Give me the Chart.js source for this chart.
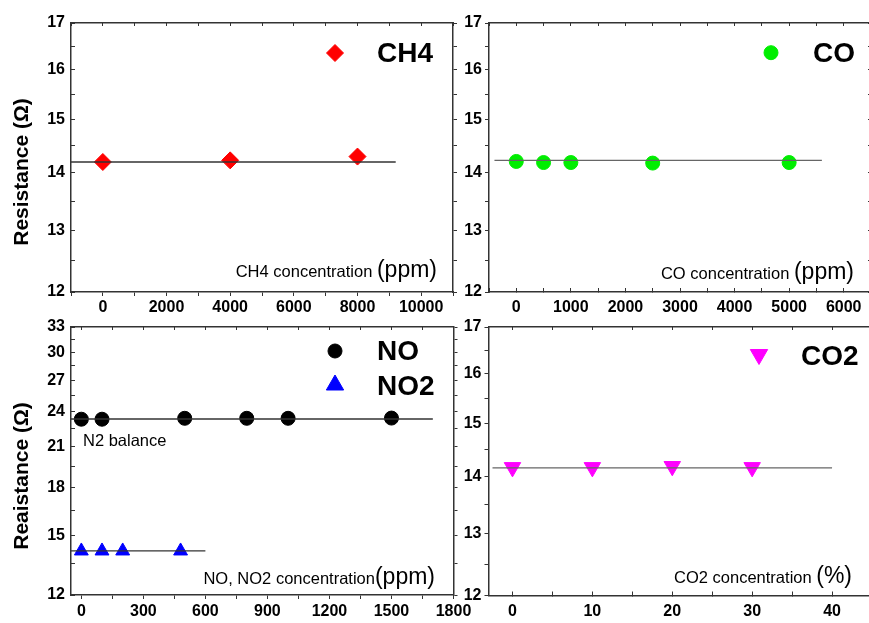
<!DOCTYPE html>
<html><head><meta charset="utf-8">
<script src="https://cdn.jsdelivr.net/npm/chart.js"></script>
<style>
html,body{margin:0;padding:0;background:#fff;overflow:hidden;width:869px;height:623px;position:relative;}
canvas{position:absolute;}
</style></head><body>
<canvas id="c1" width="480" height="320" style="left:0;top:0"></canvas>
<canvas id="c2" width="460" height="320" style="left:430px;top:0"></canvas>
<canvas id="c3" width="480" height="318" style="left:0;top:305px"></canvas>
<canvas id="c4" width="460" height="318" style="left:430px;top:305px"></canvas>
<script>
// ---------------- data ----------------
const ch4Conc = [0, 4000, 8000];
const ch4Res = [14.20, 14.23, 14.30];
const ch4LineConc = [-1000, 9200];
const ch4LineRes = [14.20, 14.20];

const coConc = [0, 500, 1000, 2500, 5000];
const coRes = [14.21, 14.19, 14.19, 14.18, 14.19];
const coLineConc = [-400, 5600];
const coLineRes = [14.23, 14.23];

const noConc = [0, 100, 500, 800, 1000, 1500];
const noRes = [23.30, 23.30, 23.38, 23.38, 23.38, 23.40];
const noLineConc = [-50, 1700];
const noLineRes = [23.32, 23.32];

const no2Conc = [0, 100, 200, 480];
const no2Res = [14.17, 14.17, 14.17, 14.17];
const no2LineConc = [-50, 600];
const no2LineRes = [14.17, 14.17];

const co2Conc = [0, 10, 20, 30];
const co2Res = [14.17, 14.17, 14.19, 14.17];
const co2LineConc = [-2.5, 40];
const co2LineRes = [14.16, 14.16];

// ---------------- tick labels ----------------
const ch4XTicks = [0, 2000, 4000, 6000, 8000, 10000];
const coXTicks = [0, 1000, 2000, 3000, 4000, 5000, 6000];
const noXTicks = [0, 300, 600, 900, 1200, 1500, 1800];
const co2XTicks = [0, 10, 20, 30, 40];
const resTicks = [12, 13, 14, 15, 16, 17];
const noResTicks = [12, 15, 18, 21, 24, 27, 30, 33];

// ---------------- helpers ----------------
const FONT = '"Liberation Sans", Arial, sans-serif';
const pts = (xs, ys) => xs.map((x, i) => ({ x: x, y: ys[i] }));

function stepTicks(min, max, step) {
  return (scale) => {
    const vals = [];
    const start = Math.ceil(min / step - 1e-9) * step;
    for (let v = start; v <= max + 1e-9; v += step) vals.push(Math.round(v * 1000) / 1000);
    scale.ticks = vals.map(v => ({ value: v }));
  };
}

function axis(o) {
  return {
    type: o.type || 'linear',
    position: o.position,
    min: o.min, max: o.max,
    afterBuildTicks: stepTicks(o.min, o.max, o.step),
    afterFit: (s) => { if (s.isHorizontal()) s.height = o.size; else s.width = o.size; },
    ticks: {
      display: !!o.labels,
      callback: (v) => (o.labels && o.labels.includes(v)) ? String(v) : '',
      autoSkip: false, maxRotation: 0, minRotation: 0,
      padding: o.pad || 0, color: '#000',
      font: { family: FONT, size: 16, weight: 'bold' }
    },
    grid: { display: true, drawOnChartArea: false, drawTicks: true, tickLength: o.tl, tickColor: '#333', tickWidth: 1 },
    border: { display: true, color: '#333', width: 1.5 }
  };
}

function fallbackPoint(ctx, style, r, rot, x, y) {
  ctx.save(); ctx.translate(x, y); ctx.rotate(rot * Math.PI / 180); ctx.beginPath();
  if (style === 'circle') ctx.arc(0, 0, r, 0, Math.PI * 2);
  else if (style === 'rectRot') { ctx.moveTo(-r, 0); ctx.lineTo(0, -r); ctx.lineTo(r, 0); ctx.lineTo(0, r); ctx.closePath(); }
  else if (style === 'triangle') { ctx.moveTo(0, -r); ctx.lineTo(r * 0.866, r / 2); ctx.lineTo(-r * 0.866, r / 2); ctx.closePath(); }
  ctx.fill(); ctx.stroke(); ctx.restore();
}

const panelText = {
  id: 'panelText',
  afterDraw(chart, args, opts) {
    const ctx = chart.ctx;
    ctx.save();
    (opts.legend || []).forEach(e => {
      const ds = chart.data.datasets[e.dataset];
      ctx.fillStyle = ds.backgroundColor; ctx.strokeStyle = ds.borderColor; ctx.lineWidth = 1;
      const rot = ds.pointRotation || 0;
      if (Chart.helpers && Chart.helpers.drawPoint) {
        Chart.helpers.drawPoint(ctx, { pointStyle: ds.pointStyle, radius: e.radius, rotation: rot, borderWidth: 1 }, e.x, e.y);
      } else {
        fallbackPoint(ctx, ds.pointStyle, e.radius, rot, e.x, e.y);
      }
      ctx.fillStyle = '#000';
      ctx.font = 'bold 28px ' + FONT;
      ctx.textAlign = 'left'; ctx.textBaseline = 'middle';
      ctx.fillText(ds.label, e.x + 42, e.ty);
    });
    (opts.notes || []).forEach(n => {
      ctx.fillStyle = '#000'; ctx.textBaseline = 'alphabetic';
      let x = n.x;
      if (n.big) {
        ctx.font = n.bigSize + 'px ' + FONT; ctx.textAlign = 'right';
        ctx.fillText(n.big, x, n.y);
        x -= ctx.measureText(n.big).width;
        ctx.font = n.size + 'px ' + FONT; ctx.textAlign = 'right';
        ctx.fillText(n.text, x, n.y);
      } else {
        ctx.font = n.size + 'px ' + FONT; ctx.textAlign = 'left';
        ctx.fillText(n.text, x, n.y);
      }
    });
    if (opts.yTitle) {
      const t = opts.yTitle;
      ctx.translate(t.x, t.y); ctx.rotate(-Math.PI / 2);
      ctx.font = 'bold 21px ' + FONT; ctx.fillStyle = '#000';
      ctx.textAlign = 'center'; ctx.textBaseline = 'middle';
      ctx.fillText(t.text, 0, 0);
    }
    ctx.restore();
  }
};

function pointSet(label, xs, ys, color, style, r, rot) {
  return {
    label: label, data: pts(xs, ys), showLine: false,
    backgroundColor: color, borderColor: color, borderWidth: 1,
    pointStyle: style, pointRadius: r, pointHoverRadius: r, pointRotation: rot || 0,
    pointBackgroundColor: color, pointBorderColor: color, pointBorderWidth: 1, order: 2
  };
}
function lineSet(xs, ys, color) {
  return {
    label: 'fit', data: pts(xs, ys), showLine: true, pointRadius: 0, pointHoverRadius: 0,
    borderColor: color, borderWidth: 1.3, backgroundColor: color, fill: false, order: 1
  };
}

function makeChart(id, datasets, scales, textOpts) {
  return new Chart(document.getElementById(id), {
    type: 'scatter',
    data: { datasets: datasets },
    options: {
      responsive: false, animation: false, devicePixelRatio: 1,
      layout: { padding: 0 },
      scales: scales,
      plugins: { legend: { display: false }, tooltip: { enabled: false }, panelText: textOpts }
    },
    plugins: [panelText]
  });
}

// ---------------- CH4 (top-left) ----------------
makeChart('c1',
  [pointSet('CH4', ch4Conc, ch4Res, '#ff0000', 'rectRot', 8.5), lineSet(ch4LineConc, ch4LineRes, '#333')],
  {
    x: axis({ position: 'bottom', min: -1000, max: 11000, step: 1000, labels: ch4XTicks, size: 28, tl: 4, pad: 1.5 }),
    x2: axis({ position: 'top', min: -1000, max: 11000, step: 1000, size: 23, tl: -3 }),
    y: axis({ type: 'logarithmic', position: 'left', min: 12, max: 17, step: 0.5, labels: resTicks, size: 71, tl: -4, pad: 10 }),
    y2: axis({ type: 'logarithmic', position: 'right', min: 12, max: 17, step: 0.5, size: 27, tl: 4 })
  },
  {
    legend: [{ dataset: 0, x: 335, y: 53, ty: 54, radius: 8.5 }],
    notes: [{ text: 'CH4 concentration ', size: 16.5, big: '(ppm)', bigSize: 23, x: 437, y: 277 }],
    yTitle: { text: 'Resistance (Ω)', x: 22.5, y: 172 }
  });

// ---------------- CO (top-right) ----------------
makeChart('c2',
  [pointSet('CO', coConc, coRes, '#00ee00', 'circle', 7), lineSet(coLineConc, coLineRes, '#666')],
  {
    x: axis({ position: 'bottom', min: -500, max: 6500, step: 500, labels: coXTicks, size: 28, tl: -4, pad: 9.5 }),
    x2: axis({ position: 'top', min: -500, max: 6500, step: 500, size: 23, tl: -3 }),
    y: axis({ type: 'logarithmic', position: 'left', min: 12, max: 17, step: 0.5, labels: resTicks, size: 59, tl: 4, pad: 3 }),
    y2: axis({ type: 'logarithmic', position: 'right', min: 12, max: 17, step: 0.5, size: 19, tl: -3 })
  },
  {
    legend: [{ dataset: 0, x: 341, y: 52.7, ty: 54, radius: 7 }],
    notes: [{ text: 'CO concentration ', size: 16.5, big: '(ppm)', bigSize: 23, x: 424, y: 279 }]
  });

// ---------------- NO / NO2 (bottom-left) ----------------
makeChart('c3',
  [pointSet('NO', noConc, noRes, '#000000', 'circle', 7), pointSet('NO2', no2Conc, no2Res, '#0000ff', 'triangle', 8),
   lineSet(noLineConc, noLineRes, '#333'), lineSet(no2LineConc, no2LineRes, '#333')],
  {
    x: axis({ position: 'bottom', min: -50, max: 1800, step: 150, labels: noXTicks, size: 28, tl: 4, pad: 3 }),
    x2: axis({ position: 'top', min: -50, max: 1800, step: 150, size: 22, tl: -3 }),
    y: axis({ type: 'logarithmic', position: 'left', min: 12, max: 33, step: 1.5, labels: noResTicks, size: 71, tl: -4, pad: 10 }),
    y2: axis({ type: 'logarithmic', position: 'right', min: 12, max: 33, step: 1.5, size: 26.5, tl: 4 })
  },
  {
    legend: [{ dataset: 0, x: 335, y: 46, ty: 47, radius: 7 }, { dataset: 1, x: 335, y: 80, ty: 82, radius: 10 }],
    notes: [{ text: 'NO, NO2 concentration', size: 16.5, big: '(ppm)', bigSize: 23, x: 435, y: 279 },
            { text: 'N2 balance', size: 16.5, x: 83, y: 141 }],
    yTitle: { text: 'Reaistance (Ω)', x: 22.5, y: 171 }
  });

// ---------------- CO2 (bottom-right) ----------------
makeChart('c4',
  [pointSet('CO2', co2Conc, co2Res, '#ff00ff', 'triangle', 9.5, 180), lineSet(co2LineConc, co2LineRes, '#666')],
  {
    x: axis({ position: 'bottom', min: -3, max: 45, step: 5, labels: co2XTicks, size: 27.5, tl: -4, pad: 10.5 }),
    x2: axis({ position: 'top', min: -3, max: 45, step: 5, size: 22, tl: -3 }),
    y: axis({ type: 'logarithmic', position: 'left', min: 12, max: 17, step: 0.5, labels: resTicks, size: 58.5, tl: 4, pad: 3 }),
    y2: axis({ type: 'logarithmic', position: 'right', min: 12, max: 17, step: 0.5, size: 18, tl: -3 })
  },
  {
    legend: [{ dataset: 0, x: 329, y: 49.5, ty: 52, radius: 10 }],
    notes: [{ text: 'CO2 concentration ', size: 16.5, big: '(%)', bigSize: 23, x: 422, y: 278 }]
  });
</script>
</body></html>
